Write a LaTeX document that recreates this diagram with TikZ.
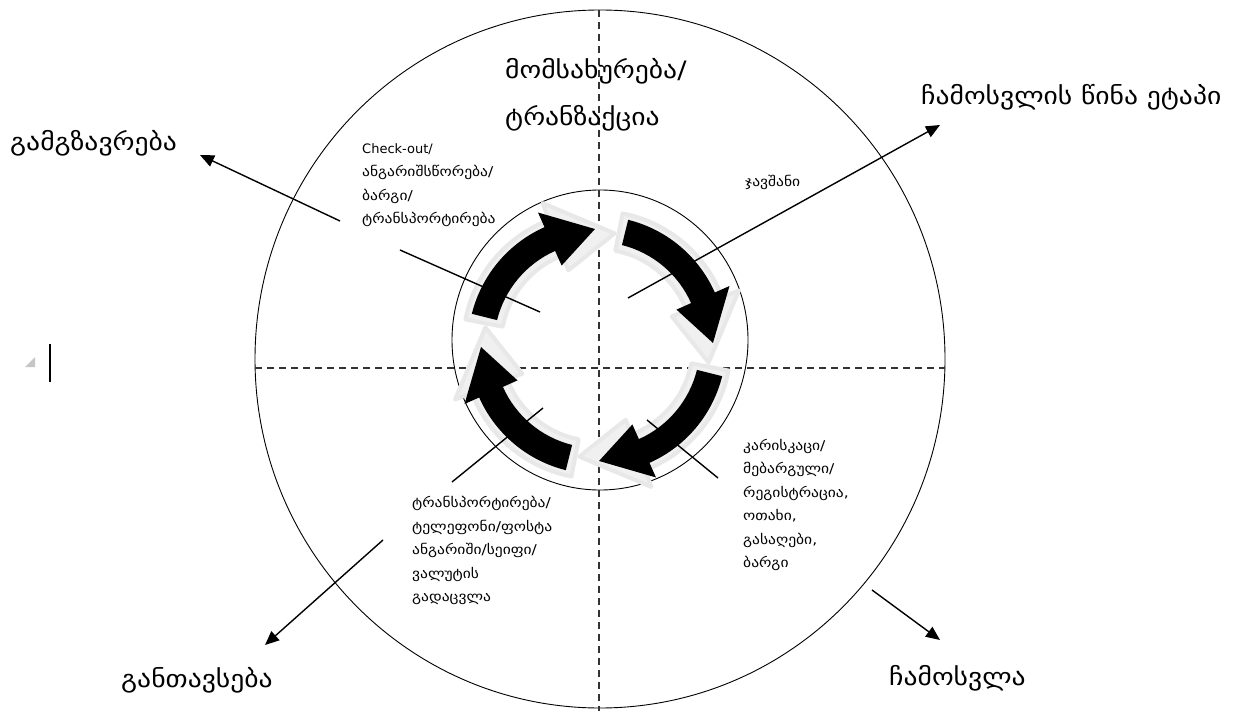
\documentclass[tikz,border=0pt]{standalone}
\usepackage{fontspec}
\setmainfont{DejaVu Sans}[FakeStretch=1.15]
\newfontfamily\latinfont{DejaVu Sans}
\usetikzlibrary{arrows.meta}
\newcommand\cycarrow[2]{%
  \pgfmathsetmacro\cyAb{#1-52}%
  \pgfmathsetmacro\cyAt{#1-75}%
  \path[#2] (#1:129) arc[start angle=#1, end angle=\cyAb, radius=129]
    -- (\cyAb:145) -- (\cyAt:116) -- (\cyAb:87) -- (\cyAb:103)
    arc[start angle=\cyAb, end angle=#1, radius=103] -- cycle;}
\newcommand\cycshadow[2]{%
  \pgfmathsetmacro\cyAb{#1-55}%
  \pgfmathsetmacro\cyAt{#1-85}%
  \path[#2] (#1+3:134) arc[start angle=#1+3, end angle=\cyAb, radius=134]
    -- (\cyAb:152) -- (\cyAt:113) -- (\cyAb:80) -- (\cyAb:96)
    arc[start angle=\cyAb, end angle=#1+3, radius=96] -- cycle;}
\begin{document}
\begin{tikzpicture}[x=1pt,y=-1pt,
  biglabel/.style={font=\fontsize{24}{47}\selectfont, inner sep=0pt},
  smalllabel/.style={font=\fontsize{13.5}{23.5}\selectfont, inner sep=0pt, align=left},
  ring/.style={draw=black, line width=0.9pt},
  divider/.style={draw=black!80, line width=1.6pt, dash pattern=on 7pt off 5pt},
  pointer/.style={draw=black, line width=1.4pt},
  bigarrow/.style={pointer, -{Triangle[length=14pt,width=12pt]}},
  cyc/.style={fill=black},
  cycsh/.style={fill=gray!12, draw=gray!18, line width=4pt, line join=round}]
\useasboundingbox (0,0) rectangle (1238,711);
\fill[white] (0,0) rectangle (1238,711);

% circles and dividers
\draw[ring] (600,359) ellipse [x radius=345pt, y radius=349pt];
\draw[ring] (600,340) ellipse [x radius=148pt, y radius=150pt];
\coordinate (vtop) at (599,10);
\coordinate (vbot) at (599,711);
\coordinate (hleft) at (255,368);
\coordinate (hright) at (945,368);
\draw[divider] (vtop) -- (vbot);
\draw[divider] (hleft) -- (hright);

% circular arrows
\begin{scope}[shift={(597,345)}, y=1pt]
  \foreach \a in {166,76,-14,-104} { \cycshadow{\a}{cycsh} }
  \foreach \a in {166,76,-14,-104} { \cycarrow{\a}{cyc} }
\end{scope}

% labels
\node[biglabel, anchor=west] (dep) at (10,143) {გამგზავრება};
\node[biglabel, anchor=north west, align=left] (serv) at (505,58) {მომსახურება/\\ტრანზაქცია};
\node[biglabel, anchor=west] (pre) at (921,97) {ჩამოსვლის წინა ეტაპი};
\node[biglabel, anchor=west] (acc) at (121,680) {განთავსება};
\node[biglabel, anchor=west] (arr) at (889,678) {ჩამოსვლა};

\node[smalllabel, anchor=north west] (chk) at (362,143) {{\latinfont\fontsize{13}{23.5}\selectfont Check-out/}\\ანგარიშსწორება/\\ბარგი/\\ტრანსპორტირება};
\node[smalllabel, anchor=west] (book) at (745,182) {ჯავშანი};
\node[smalllabel, anchor=north west] (port) at (743,439) {კარისკაცი/\\მებარგული/\\რეგისტრაცია,\\ოთახი,\\გასაღები,\\ბარგი};
\node[smalllabel, anchor=north west] (tel) at (412,496) {ტრანსპორტირება/\\ტელეფონი/ფოსტა\\ანგარიში/სეიფი/\\ვალუტის\\გადაცვლა};

% connectors
\coordinate (a1s) at (340,221); \coordinate (a1e) at (200,155);
\coordinate (l1s) at (400,250); \coordinate (l1e) at (540,312);
\coordinate (a2s) at (628,298); \coordinate (a2e) at (940,125);
\coordinate (l3s) at (647,420); \coordinate (l3e) at (718,478);
\coordinate (a3s) at (872,590); \coordinate (a3e) at (940,640);
\coordinate (l4s) at (543,408); \coordinate (l4e) at (452,482);
\coordinate (a4s) at (383,540); \coordinate (a4e) at (265,645);
\draw[bigarrow] (a1s) -- (a1e);
\draw[pointer] (l1s) -- (l1e);
\draw[bigarrow] (a2s) -- (a2e);
\draw[pointer] (l3s) -- (l3e);
\draw[bigarrow] (a3s) -- (a3e);
\draw[pointer] (l4s) -- (l4e);
\draw[bigarrow] (a4s) -- (a4e);

% cursor marks
\fill[gray!45] (35,357) -- (35,367) -- (25,367) -- cycle;
\draw[black, line width=1.2pt] (50,344) -- (50,382);
\end{tikzpicture}
\end{document}
